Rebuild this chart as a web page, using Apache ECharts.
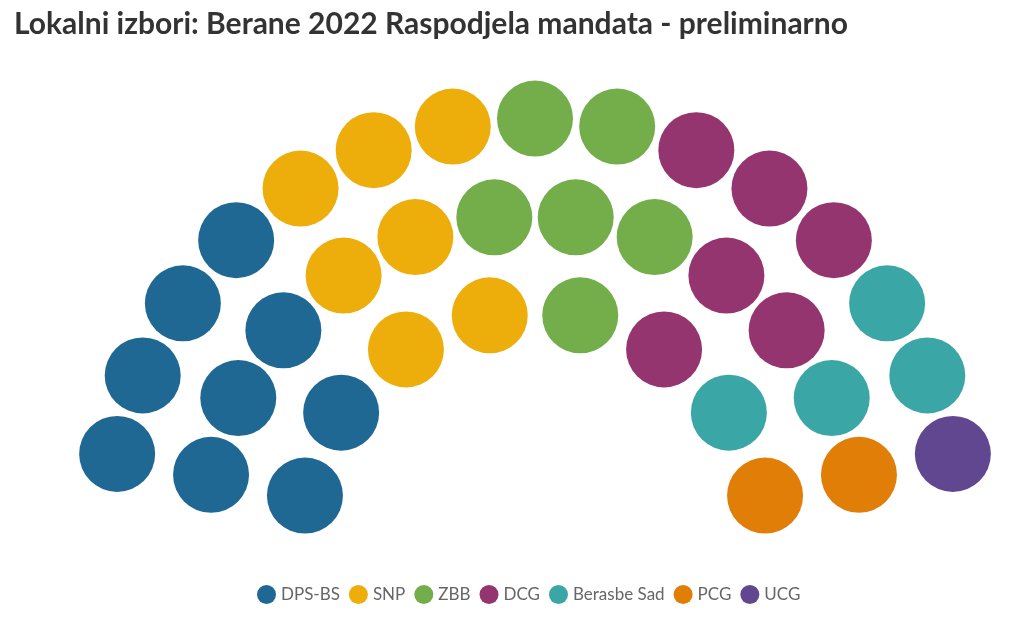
<!DOCTYPE html>
<html>
<head>
<meta charset="utf-8">
<script src="https://cdn.jsdelivr.net/npm/echarts@6/dist/echarts.min.js"></script>
<style>
html,body{margin:0;padding:0;background:#fff;}
#c{width:1024px;height:618px;}
</style>
</head>
<body>
<div id="c"></div>
<script>
// Data
var parties = ['DPS-BS', 'SNP', 'ZBB', 'DCG', 'Berasbe Sad', 'PCG', 'UCG'];
var seats = [9, 7, 6, 6, 4, 2, 1];
var colors = ['#1f6894', '#edae0b', '#73ae4a', '#94356f', '#3aa7a6', '#e07e07', '#604790'];
var titleText = 'Lokalni izbori: Berane 2022 Raspodjela mandata - preliminarno';

// Parliament layout: rows (inner -> outer), seats per row
var rowSeats = [8, 12, 15];
var rowRadius = [2.45, 3.45, 4.45];
var angleFrom = 167.5, angleTo = 12.5;

var slots = [];
rowSeats.forEach(function (n, ri) {
  for (var i = 0; i < n; i++) {
    var a = angleFrom - (angleFrom - angleTo) * i / (n - 1);
    slots.push({ r: rowRadius[ri], a: a, row: ri });
  }
});
slots.sort(function (p, q) {
  var d = Math.round((q.a - p.a) * 1000);
  if (d !== 0) return d;
  return p.row - q.row;
});

var series = [];
var k = 0;
parties.forEach(function (name, pi) {
  var data = [];
  for (var s = 0; s < seats[pi]; s++) {
    var sl = slots[k++];
    data.push([sl.r, sl.a]);
  }
  series.push({
    name: name,
    type: 'scatter',
    coordinateSystem: 'polar',
    symbol: 'circle',
    symbolSize: 76,
    itemStyle: { color: colors[pi], opacity: 1 },
    emphasis: { disabled: true },
    data: data
  });
});

var chart = echarts.init(document.getElementById('c'), null, { renderer: 'canvas' });
chart.setOption({
  animation: false,
  backgroundColor: '#fff',
  title: {
    text: titleText,
    left: 9,
    top: 4,
    textStyle: { fontFamily: 'Lato', fontWeight: 'bold', fontSize: 30, color: '#333333' }
  },
  legend: {
    data: parties,
    top: 580,
    left: 252,
    icon: 'circle',
    itemWidth: 19,
    itemHeight: 19,
    itemGap: 9,
    textStyle: { fontFamily: 'Lato', fontSize: 17, color: '#666666' }
  },
  polar: { center: [535, 546.6], radius: 428 },
  radiusAxis: { min: 0, max: 4.45, show: false },
  angleAxis: { type: 'value', min: 0, max: 360, startAngle: 0, clockwise: false, show: false },
  series: series
});
</script>
</body>
</html>
